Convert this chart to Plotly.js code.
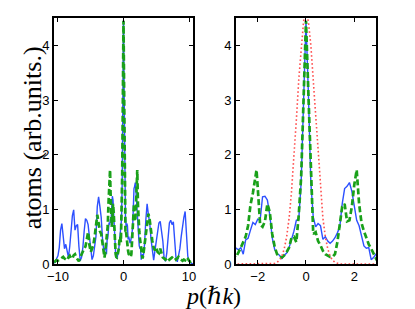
<!DOCTYPE html>
<html><head><meta charset="utf-8">
<script src="https://cdn.plot.ly/plotly-3.0.1.min.js"></script>
<style>html,body{margin:0;padding:0;background:#fff}#chart{width:415px;height:309px}</style>
</head><body><div id="chart"></div>
<script>
// momentum grid (units of hbar k)
const p = [-10.6,-10.4,-10.2,-10.0,-9.8,-9.6,-9.4,-9.2,-9.0,-8.8,-8.6,-8.4,-8.2,-8.0,-7.8,-7.6,-7.4,-7.2,-7.0,-6.8,-6.6,-6.4,-6.2,-6.0,-5.8,-5.6,-5.4,-5.2,-5.0,-4.8,-4.6,-4.4,-4.2,-4.0,-3.8,-3.6,-3.4,-3.2,
 -3.0,-2.9,-2.8,-2.7,-2.6,-2.5,-2.4,-2.3,-2.2,-2.1,-2.05,-2.0,-1.9,-1.8,-1.7,-1.6,-1.5,-1.4,-1.3,-1.2,-1.1,-1.0,-0.9,-0.8,-0.7,-0.6,-0.5,-0.4,-0.3,-0.2,-0.1,
 0.0,0.1,0.2,0.3,0.4,0.5,0.6,0.7,0.8,0.9,1.0,1.1,1.2,1.3,1.4,1.5,1.6,1.7,1.8,1.9,2.0,2.1,2.2,2.3,2.4,2.5,2.6,2.7,2.8,2.9,3.0,
 3.2,3.4,3.6,3.8,4.0,4.2,4.4,4.6,4.8,5.0,5.2,5.4,5.6,5.8,6.0,6.2,6.4,6.6,6.8,7.0,7.2,7.4,7.6,7.8,8.0,8.2,8.4,8.6,8.8,9.0,9.2,9.4,9.6,9.8,10.0,10.2,10.4,10.6];

// blue solid (experiment)
const blueAtoms = [0.02,0.04,0.10,0.15,0.30,0.62,0.74,0.50,0.28,0.36,0.22,0.12,0.32,0.60,0.88,0.99,0.62,0.70,0.72,0.32,0.06,0.12,0.30,0.60,0.83,0.80,0.72,0.50,0.30,0.08,0.15,0.30,0.50,1.05,1.23,1.05,0.85,0.45,
 0.24,0.29,0.26,0.30,0.18,0.44,0.47,0.62,0.76,0.72,0.78,0.82,0.80,1.23,1.24,1.17,0.90,0.48,0.27,0.19,0.16,0.10,0.16,0.20,0.30,0.45,0.60,0.80,0.82,1.50,3.00,
 4.45,3.10,1.50,0.86,0.68,0.74,0.70,0.45,0.50,0.42,0.38,0.42,0.48,0.57,0.68,1.10,1.38,1.42,1.49,1.33,1.08,0.80,0.70,0.50,0.33,0.29,0.30,0.08,0.12,0.18,0.12,
 0.35,0.80,1.10,0.90,0.75,0.45,0.20,0.07,0.25,0.40,0.60,0.75,0.78,0.60,0.42,0.10,0.05,0.20,0.45,0.75,0.80,0.72,0.77,0.35,0.12,0.04,0.15,0.28,0.50,0.70,0.85,0.96,0.60,0.15,0.05,0.02,0.01,0.00];

// green dashed (simulation)
const greenAtoms = [0.03,0.05,0.07,0.06,0.08,0.10,0.12,0.13,0.10,0.08,0.07,0.12,0.15,0.10,0.10,0.16,0.18,0.12,0.07,0.05,0.12,0.18,0.22,0.28,0.32,0.45,0.58,0.35,0.22,0.28,0.35,0.50,0.75,0.90,0.75,0.60,0.55,0.35,
 0.15,0.12,0.20,0.30,0.40,0.50,0.70,1.08,1.30,1.62,1.72,1.40,0.72,0.68,0.78,1.10,0.95,0.55,0.32,0.18,0.13,0.12,0.16,0.22,0.30,0.48,0.50,0.40,0.90,1.60,3.00,
 4.45,3.10,1.60,0.55,0.58,0.42,0.34,0.24,0.18,0.16,0.13,0.13,0.18,0.40,0.75,1.05,1.10,0.78,0.80,1.05,1.45,1.72,1.10,0.75,0.60,0.47,0.36,0.28,0.20,0.10,0.15,
 0.35,0.55,0.78,0.92,0.80,0.55,0.42,0.30,0.25,0.30,0.22,0.20,0.28,0.20,0.12,0.10,0.08,0.10,0.12,0.08,0.10,0.12,0.10,0.12,0.08,0.10,0.13,0.10,0.07,0.06,0.08,0.07,0.12,0.10,0.06,0.04,0.06,0.03];

// red dotted (initial distribution), right panel
const redP = [-3.0,-1.4,-1.3,-1.2,-1.1,-1.0,-0.9,-0.8,-0.7,-0.6,-0.5,-0.4,-0.3,-0.2,-0.1,0.0,0.1,0.2,0.3,0.4,0.5,0.6,0.7,0.8,0.9,1.0,1.1,1.2,1.3,1.4,3.0];
const redAtoms = [0,0,0.01,0.03,0.07,0.14,0.28,0.50,0.84,1.32,1.93,2.64,3.37,4.00,4.44,4.60,4.44,4.00,3.37,2.64,1.93,1.32,0.84,0.50,0.28,0.14,0.07,0.03,0.01,0,0];

const yTicks = [0,1,2,3,4];
const xTicksLeft = [-10,0,10];
const xTicksRight = [-2,0,2];

const blue = 'rgb(45,80,255)', green = 'rgb(25,160,25)', red = 'rgb(255,80,80)';
const traces = [
  {x:p, y:blueAtoms, xaxis:'x', yaxis:'y', mode:'lines', line:{color:blue, width:1.4}},
  {x:p, y:greenAtoms, xaxis:'x', yaxis:'y', mode:'lines', line:{color:green, width:2.7, dash:'6px,3px'}},
  {x:p, y:blueAtoms, xaxis:'x2', yaxis:'y2', mode:'lines', line:{color:blue, width:1.4}},
  {x:p, y:greenAtoms, xaxis:'x2', yaxis:'y2', mode:'lines', line:{color:green, width:2.7, dash:'6px,3px'}},
  {x:redP, y:redAtoms, xaxis:'x2', yaxis:'y2', mode:'lines', line:{color:red, width:1.6, dash:'1.6px,2.4px'}}
];
const ax = {showline:true, linecolor:'black', linewidth:1.8, mirror:'ticks', ticks:'inside', ticklen:4, tickwidth:1, tickcolor:'black',
  showgrid:false, zeroline:false, tickfont:{family:'Liberation Sans, Arial', size:13, color:'black'}};
const layout = {
  width:415, height:309, showlegend:false, paper_bgcolor:'white', plot_bgcolor:'white',
  margin:{l:54, r:39, t:18, b:45},
  xaxis:Object.assign({}, ax, {domain:[0,0.4317], range:[-10.6,10.6], tickvals:xTicksLeft, anchor:'y'}),
  yaxis:Object.assign({}, ax, {domain:[0,1], range:[0,4.5], tickvals:yTicks, anchor:'x'}),
  xaxis2:Object.assign({}, ax, {domain:[0.5652,1], range:[-2.9,2.9], tickvals:xTicksRight, anchor:'y2'}),
  yaxis2:Object.assign({}, ax, {domain:[0,1], range:[0,4.5], tickvals:yTicks, anchor:'x2'}),
  annotations:[
    {text:'atoms (arb.units.)', xref:'paper', yref:'paper', x:-0.068, y:0.512, textangle:-90, showarrow:false,
     xanchor:'center', yanchor:'middle', font:{family:'Liberation Serif, Times New Roman, serif', size:26, color:'black'}},
    {text:'<i>p</i>(ℏ<i>k</i>)', xref:'paper', yref:'paper', x:0.494, y:-0.13, showarrow:false,
     xanchor:'center', yanchor:'middle', font:{family:'Liberation Serif, DejaVu Serif, serif', size:24, color:'black'}}
  ]
};
Plotly.newPlot('chart', traces, layout, {staticPlot:true, displayModeBar:false});
</script></body></html>
